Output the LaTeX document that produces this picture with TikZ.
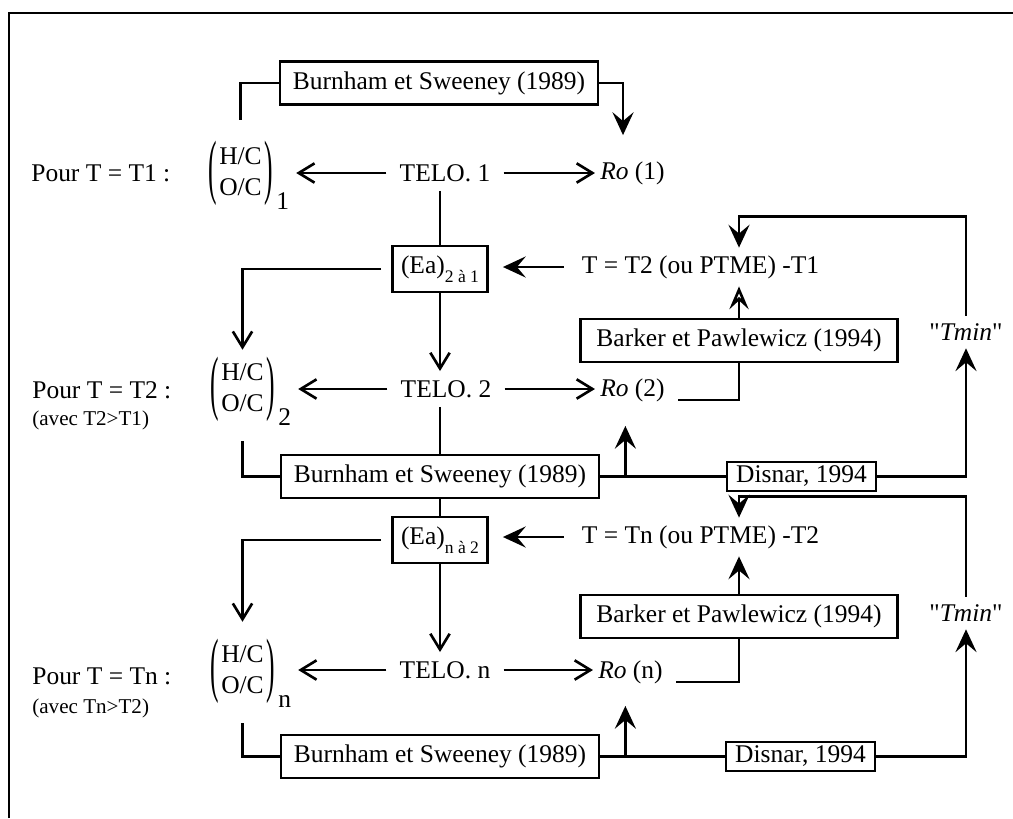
\documentclass[tikz,border=0pt]{standalone}
\usepackage{fontspec}
\setmainfont{Liberation Serif}
\usetikzlibrary{arrows.meta}

% (H/C, O/C) column with its index, and the (Ea) label
\newcommand{\tallp}[1]{\raisebox{-6pt}{\scalebox{1}[2.8]{#1}}}
\newcommand{\hoc}[1]{\tallp{(}\begin{tabular}{@{\hspace{1.5pt}}c@{\hspace{1.5pt}}}H/C\\O/C\end{tabular}\tallp{)}\rlap{\hspace{2pt}\raisebox{-17pt}{#1}}}
\newcommand{\eab}[1]{(Ea)\raisebox{-0.35em}{\fontsize{10}{10}\selectfont #1}}

\begin{document}
\begin{tikzpicture}[%
    x=0.02cm, y=-0.02cm,        % one unit = one pixel, y going down
    every node/.style={font=\fontsize{14.5}{17.4}\selectfont},
    ]
\useasboundingbox (0,0) rectangle (1013,818);
% -------------------------------------------------
% Box and text styles, then connector styles
\tikzset{
  base/.style={draw, line width=1.6pt, align=center, inner xsep=2pt},
  bs/.style={base, minimum width=6.36cm, minimum height=0.86cm},
  bp/.style={base, minimum width=6.34cm, minimum height=0.86cm},
  ds/.style={base, minimum width=2.98cm, minimum height=0.58cm, inner ysep=1pt},
  ea/.style={base, minimum width=1.9cm, minimum height=0.92cm},
  telo/.style={inner xsep=0.26cm, inner ysep=0.18cm},
  ro/.style={inner xsep=0.1cm, inner ysep=0.1cm},
  tt/.style={inner xsep=0.36cm, inner ysep=0.15cm},
  tm/.style={inner xsep=0.1cm, inner ysep=0.15cm},
  mat/.style={inner xsep=0.46cm, inner ysep=0.14cm},
  pour/.style={anchor=west, inner sep=0pt},
  avec/.style={pour, font=\fontsize{12}{14}\selectfont},
  % Connector line styles
  norm/.style={line width=1.5pt},
  heavy/.style={norm, -{Stealth[length=13pt, width=12pt, inset=5pt]}},
  barb/.style={norm, -{Straight Barb[length=9pt, width=11pt]}},
  hollow/.style={norm, -{Stealth[open, length=13pt, width=11pt, inset=5pt]}},
}
% frame (top and left side only)
\draw[line width=1.6pt] (9,818) -- (9,13) -- (1013,13);
% -------------------------------------------------
% Start by placing the nodes
% T = T1
\node[pour] (p1) at (31,173) {Pour T = T1 :};
\node[mat] (m1) at (240.5,175.5) {\hoc{1}};
\node[telo] (t1) at (445,173) {TELO. 1};
\node[ro] (ro1) at (632.5,173) {\textit{Ro} (1)};
\node[bs] (b0) at (439,83) {Burnham et Sweeney (1989)};
\node[ea] (ea1) at (440,269) {\eab{2 à 1}};
\node[tt] (tt2) at (700.5,267) {T = T2 (ou PTME) -T1};
\node[bp] (k1) at (739,340.5) {Barker et Pawlewicz (1994)};
\node[tm] (tm1) at (966,332) {\textquotedbl\textit{Tmin}\textquotedbl};
% T = T2
\node[pour] (p2) at (32,390) {Pour T = T2 :};
\node[avec] (a2) at (32,420) {(avec T2>T1)};
\node[mat] (m2) at (242.5,391.5) {\hoc{2}};
\node[telo] (t2) at (446,389) {TELO. 2};
\node[ro] (ro2) at (632.5,390) {\textit{Ro} (2)};
\node[bs] (b2) at (440,476.5) {Burnham et Sweeney (1989)};
\node[ds] (d1) at (801.5,476.5) {Disnar, 1994};
\node[ea] (ean) at (440,540) {\eab{n à 2}};
\node[tt] (ttn) at (700.5,537) {T = Tn (ou PTME) -T2};
\node[bp] (k2) at (739,616.5) {Barker et Pawlewicz (1994)};
\node[tm] (tm2) at (966,613) {\textquotedbl\textit{Tmin}\textquotedbl};
% T = Tn
\node[pour] (pn) at (32,676) {Pour T = Tn :};
\node[avec] (an) at (32,708) {(avec Tn>T2)};
\node[mat] (mn) at (242.5,673.5) {\hoc{n}};
\node[telo] (tn) at (445,670) {TELO. n};
\node[ro] (ron) at (630.5,672) {\textit{Ro} (n)};
\node[bs] (b3) at (440,756.5) {Burnham et Sweeney (1989)};
\node[ds] (d2) at (800.5,756.5) {Disnar, 1994};

% -------------------------------------------------
% row 1
\draw[norm] ([yshift=0.28cm]m1.north) |- (b0.west);
\draw[heavy, shorten >=0.42cm] (b0.east) -| ([xshift=-0.19cm]ro1.north);
\draw[barb] (t1.west) -- (t1.west -| m1.east);
\draw[barb] (t1.east) -- (t1.east -| ro1.west);
\draw[norm] (ea1.north |- t1.south) -- (ea1.north);
% T2 loop
\draw[heavy, shorten >=0.28cm] (tt2.west) -- (tt2.west -| ea1.east);
\draw[barb] ([xshift=-0.2cm]ea1.west) -| (m2.north);
\draw[barb] (ea1.south) -- (ea1.south |- t2.north);
\draw[hollow] (k1.north) -- (k1.north |- tt2.south);
\draw[heavy] (tm1.north) -- ++(0,-99) -| (k1.north |- tt2.north);
% row 2
\draw[barb] (t2.west) -- (t2.west -| m2.east);
\draw[barb] (t2.east) -- (t2.east -| ro2.west);
\draw[norm] ([xshift=0.16cm, yshift=-0.2cm]ro2.east) -| (k1.south);
\draw[norm] (b2.north |- t2.south) -- (b2.north);
\draw[norm] ([yshift=-0.16cm]m2.south) |- (b2.west);
\draw[norm] (b2.east) -- (d1.west);
\coordinate (j2) at ([xshift=0.5cm]b2.east);
\draw[heavy, shorten >=0.38cm] (j2) -- (j2 |- ro2.south);
\draw[heavy] (d1.east) -| (tm1.south);
% Tn loop
\draw[heavy] (tm2.north) -- ++(0,-100) -| (k2.north |- ttn.north);
\draw[heavy, shorten >=0.28cm] (ttn.west) -- (ttn.west -| ean.east);
\draw[norm] (b2.south) -- (ean.north);
\draw[barb, shorten >=0.2cm] ([xshift=-0.2cm]ean.west) -| (mn.north);
\draw[barb] (ean.south) -- (ean.south |- tn.north);
\draw[heavy] (k2.north) -- (k2.north |- ttn.south);
% row n
\draw[barb] (tn.west) -- (tn.west -| mn.east);
\draw[barb] (tn.east) -- (tn.east -| ron.west);
\draw[norm] ([xshift=0.16cm, yshift=-0.2cm]ron.east) -| (k2.south);
\draw[norm] ([yshift=-0.16cm]mn.south) |- (b3.west);
\draw[norm] (b3.east) -- (d2.west);
\coordinate (j3) at ([xshift=0.5cm]b3.east);
\draw[heavy, shorten >=0.34cm] (j3) -- (j3 |- ron.south);
\draw[heavy] (d2.east) -| (tm2.south);

% -------------------------------------------------
\end{tikzpicture}
\end{document}
